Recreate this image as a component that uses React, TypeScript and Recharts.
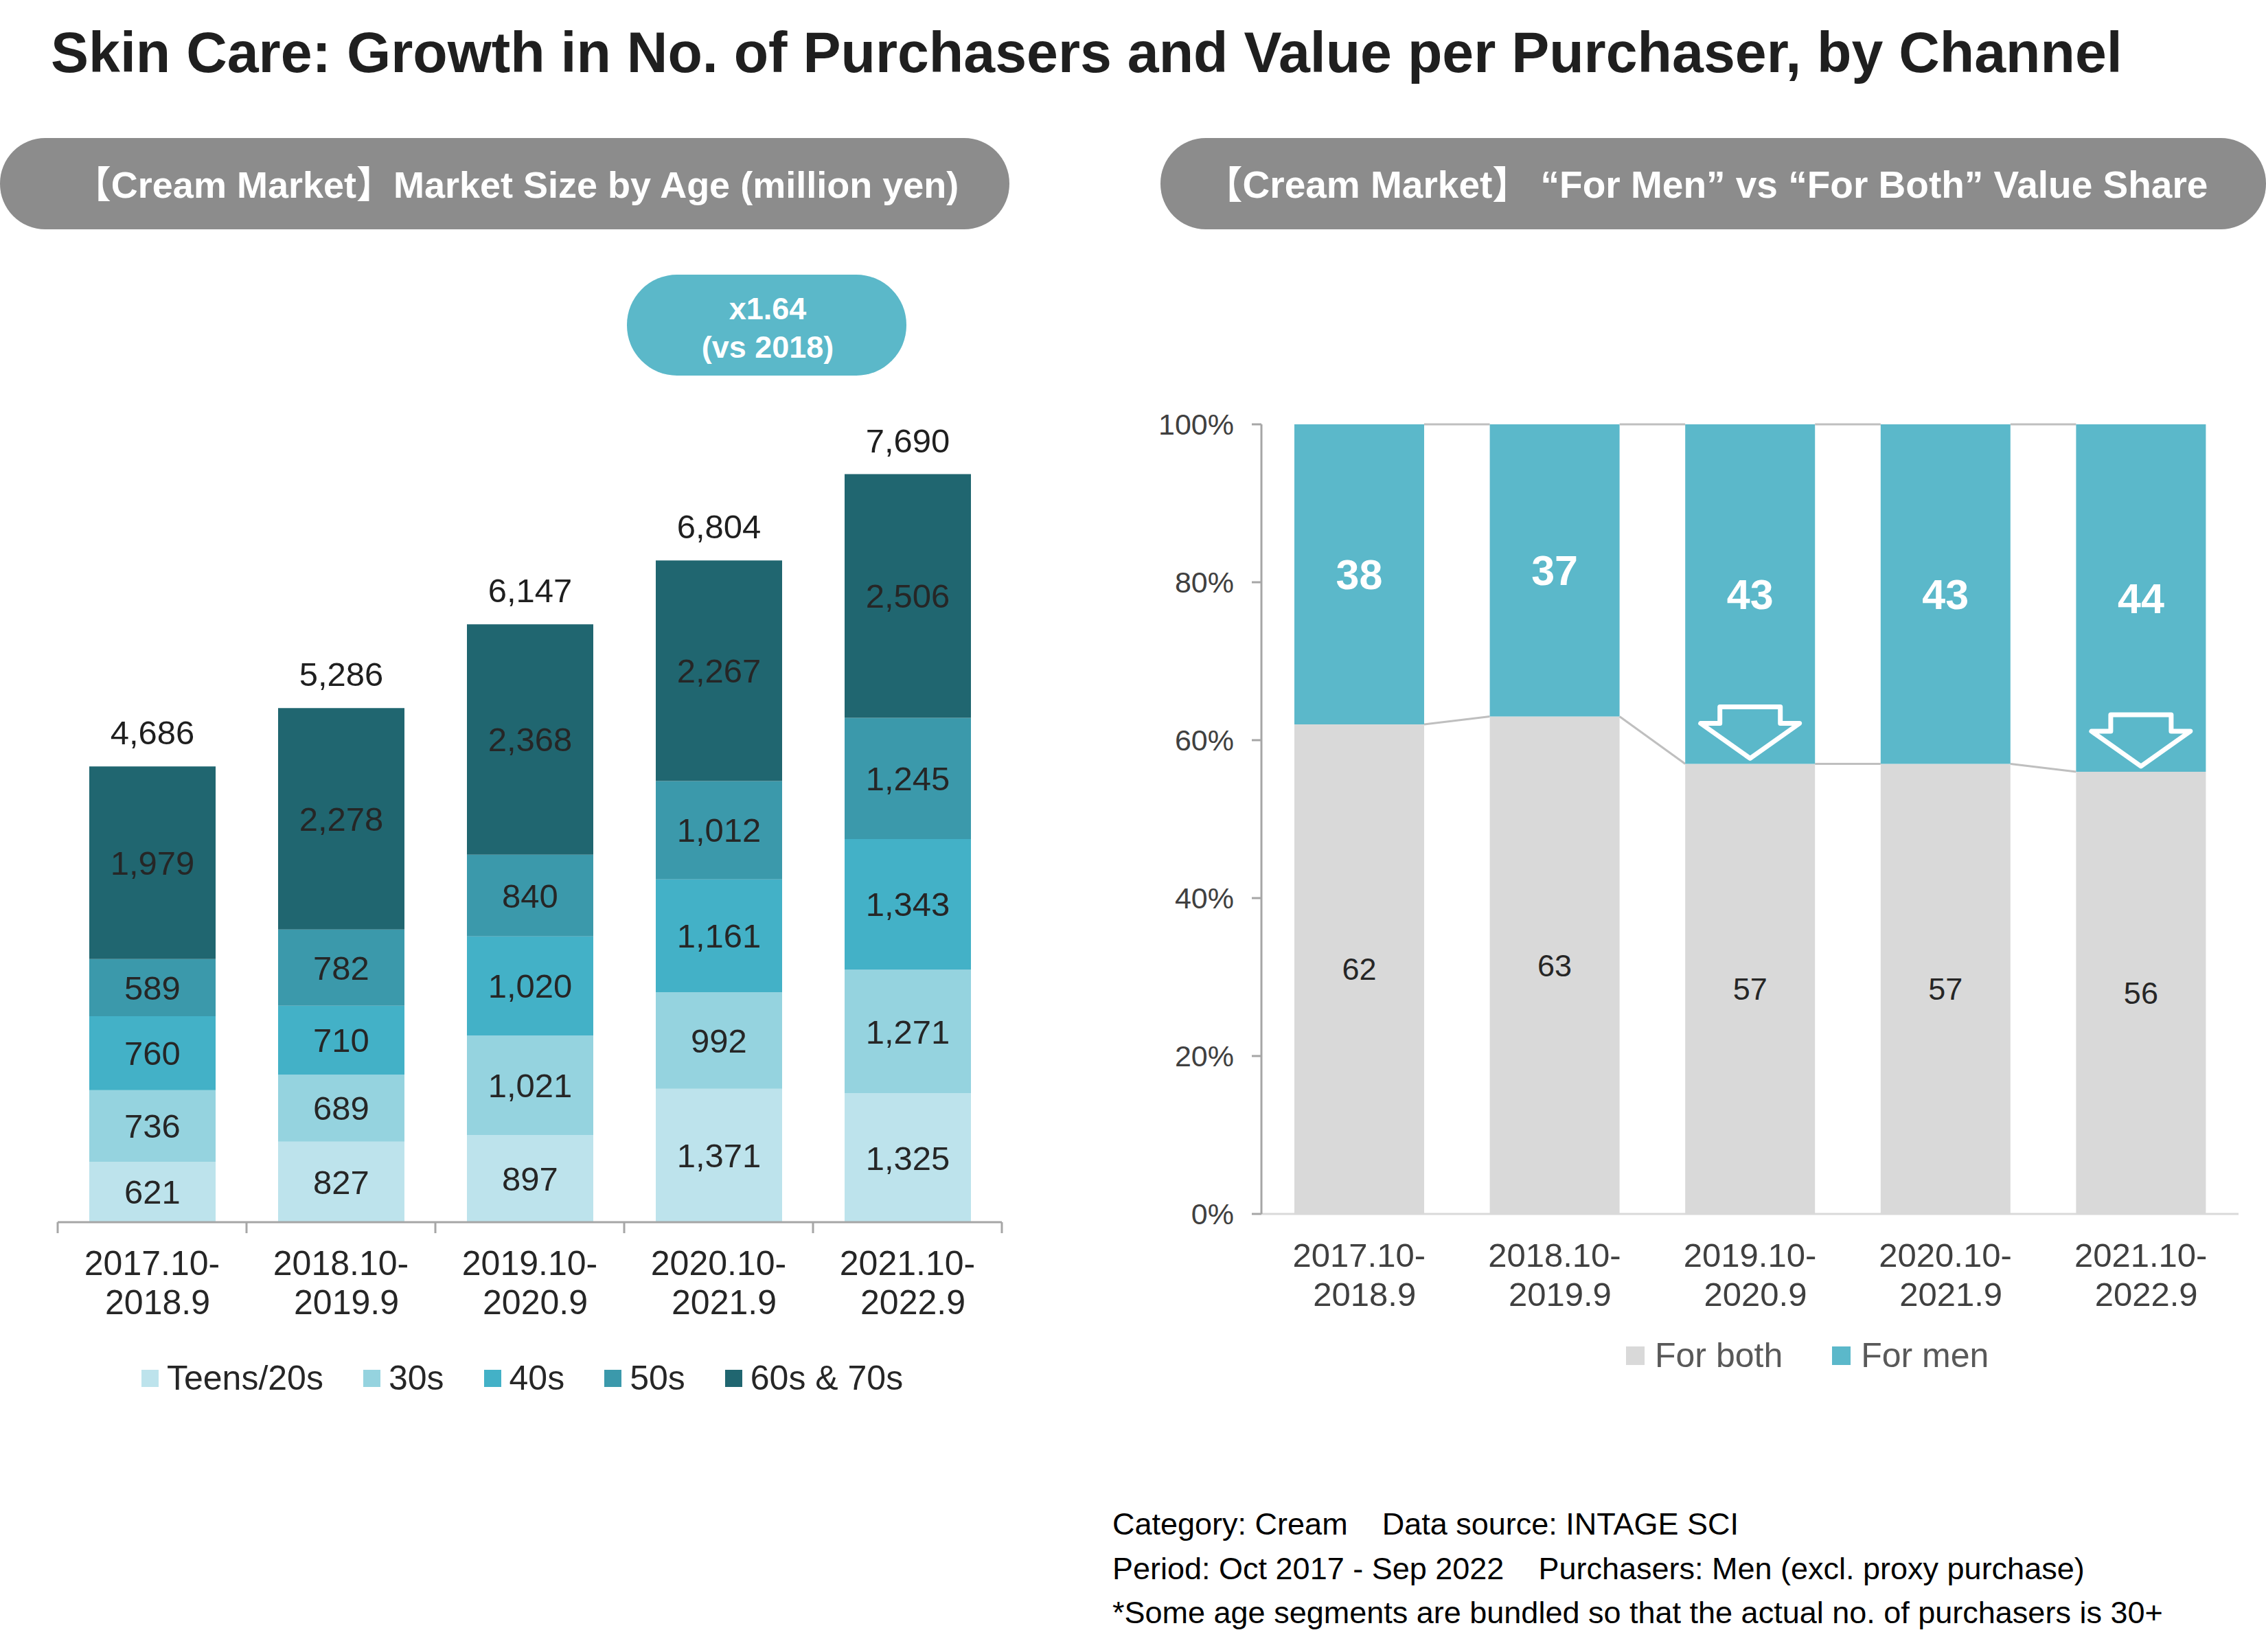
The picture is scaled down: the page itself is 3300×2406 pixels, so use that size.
import React from 'react';
import { BarChart, Bar, XAxis, YAxis, LabelList, Legend } from 'recharts';

const FONT = '"Liberation Sans", Arial, "Noto Sans CJK JP", sans-serif';

// periods shared by both charts
const periods = ['2017.10-2018.9', '2018.10-2019.9', '2019.10-2020.9', '2020.10-2021.9', '2021.10-2022.9'];

// cream market size by age (million yen)
const teens = [621, 827, 897, 1371, 1325];
const thirties = [736, 689, 1021, 992, 1271];
const forties = [760, 710, 1020, 1161, 1343];
const fifties = [589, 782, 840, 1012, 1245];
const sixtiesSeventies = [1979, 2278, 2368, 2267, 2506];
const marketTotals = [4686, 5286, 6147, 6804, 7690];

// value share (%)
const forBoth = [62, 63, 57, 57, 56];
const forMen = [38, 37, 43, 43, 44];
const shareDrop = [false, false, true, false, true];
const shareTicks = [0, 20, 40, 60, 80, 100];

const ageSeries = [
  { key: 'teens', name: 'Teens/20s', color: '#bde3ec' },
  { key: 'thirties', name: '30s', color: '#95d3df' },
  { key: 'forties', name: '40s', color: '#43b1c7' },
  { key: 'fifties', name: '50s', color: '#3b99ab' },
  { key: 'sixties', name: '60s & 70s', color: '#206670' },
];
const shareNames = ['For both', 'For men'];

const marketData = periods.map((period, i) => ({
  period,
  teens: teens[i],
  thirties: thirties[i],
  forties: forties[i],
  fifties: fifties[i],
  sixties: sixtiesSeventies[i],
  total: marketTotals[i],
}));

const shareData = periods.map((period, i) => ({
  period,
  both: forBoth[i],
  men: forMen[i],
  drop: shareDrop[i],
}));

// layout
const L = { left: 0, top: 400, width: 1500, height: 1700 };
const L_MARGIN = { top: 105, right: 41, bottom: 170, left: 84 };
const L_BAND = (L.width - L_MARGIN.left - L_MARGIN.right) / periods.length;

const R = { left: 1650, top: 500, width: 1650, height: 1600 };
const R_MARGIN = { top: 118, right: 40, bottom: 182, left: 0 };
const R_YAXIS_W = 187;
const R_BAND = (R.width - R_YAXIS_W - R_MARGIN.right) / periods.length;

const splitPeriod = (s: string) => {
  const i = s.indexOf('-');
  return [s.slice(0, i + 1), s.slice(i + 1)];
};

const fmt = (v: any) => Number(v).toLocaleString('en-US');

const LeftTick = (props: any) => {
  const { x, y, payload } = props;
  const [a, b] = splitPeriod(payload.value);
  const isLast = payload.value === periods[periods.length - 1];
  return (
    <g>
      <line x1={x - L_BAND / 2} x2={x - L_BAND / 2} y1={y} y2={y + 16} stroke="#a6a6a6" strokeWidth={3} />
      {isLast && <line x1={x + L_BAND / 2} x2={x + L_BAND / 2} y1={y} y2={y + 16} stroke="#a6a6a6" strokeWidth={3} />}
      <text x={x} y={y + 77} textAnchor="middle" fill="#262626" fontSize={50} fontFamily={FONT}>{a}</text>
      <text x={x + 8} y={y + 134} textAnchor="middle" fill="#262626" fontSize={50} fontFamily={FONT}>{b}</text>
    </g>
  );
};

const RightTick = (props: any) => {
  const { x, y, payload } = props;
  const [a, b] = splitPeriod(payload.value);
  return (
    <g>
      <text x={x} y={y + 77} textAnchor="middle" fill="#404040" fontSize={49} fontFamily={FONT}>{a}</text>
      <text x={x + 8} y={y + 134} textAnchor="middle" fill="#404040" fontSize={49} fontFamily={FONT}>{b}</text>
    </g>
  );
};

const SERIES_LINE = '#bfbfbf';

const BothShape = (props: any) => {
  const { x, y, width, height, fill, index } = props;
  const next = shareData[index + 1];
  const base = y + height;
  const perUnit = height / shareData[index].both;
  return (
    <g>
      <rect x={x} y={y} width={width} height={height} fill={fill} />
      {next && (
        <line x1={x + width} y1={y} x2={x + R_BAND} y2={base - next.both * perUnit} stroke={SERIES_LINE} strokeWidth={3} />
      )}
    </g>
  );
};

const MenShape = (props: any) => {
  const { x, y, width, height, fill, index } = props;
  const next = shareData[index + 1];
  const cx = x + width / 2;
  const tip = y + height - 8;
  const top = tip - 75;
  const headY = tip - 51;
  const arrow = [
    [cx - 44, top], [cx + 44, top], [cx + 44, headY], [cx + 72, headY],
    [cx, tip], [cx - 72, headY], [cx - 44, headY],
  ].map((p) => p.join(',')).join(' ');
  return (
    <g>
      <rect x={x} y={y} width={width} height={height} fill={fill} />
      {next && <line x1={x + width} y1={y} x2={x + R_BAND} y2={y} stroke={SERIES_LINE} strokeWidth={3} />}
      {shareDrop[index] && (
        <polygon points={arrow} fill="none" stroke="#ffffff" strokeWidth={7} strokeLinejoin="round" />
      )}
    </g>
  );
};

const legendContent = (order: string[], swatch: number, gap: number, spacing: number, color: string) => (props: any) => {
  const items = [...(props.payload || [])].sort((a: any, b: any) => order.indexOf(a.value) - order.indexOf(b.value));
  return (
    <div style={{ display: 'flex', alignItems: 'center', fontFamily: FONT, fontSize: 50, color, lineHeight: '60px', whiteSpace: 'nowrap' }}>
      {items.map((it: any) => (
        <div key={it.value} style={{ display: 'flex', alignItems: 'center', marginRight: spacing }}>
          <span style={{ width: swatch, height: swatch, background: it.color, display: 'inline-block', marginRight: gap }} />
          <span>{it.value}</span>
        </div>
      ))}
    </div>
  );
};

export default function App() {
  return (
    <div style={{ position: 'absolute', left: 0, top: 0, width: 3300, height: 2406, background: '#ffffff', fontFamily: FONT, overflow: 'hidden' }}>
      <svg width={3300} height={2406} style={{ position: 'absolute', left: 0, top: 0 }}>
        <text x={74} y={105} fontSize={82.5} fontWeight="bold" fill="#1f1f1f" fontFamily={FONT}>
          Skin Care: Growth in No. of Purchasers and Value per Purchaser, by Channel
        </text>

        <rect x={0} y={201} width={1470} height={133} rx={66} fill="#8c8c8c" />
        <text x={752} y={288} textAnchor="middle" fontSize={54} fontWeight="bold" fill="#ffffff" fontFamily={FONT}>
          【Cream Market】Market Size by Age (million yen)
        </text>

        <rect x={1690} y={201} width={1610} height={133} rx={66} fill="#8c8c8c" />
        <text x={2485} y={288} textAnchor="middle" fontSize={55} fontWeight="bold" fill="#ffffff" fontFamily={FONT} xmlSpace="preserve">
          {'【Cream Market】 “For Men” vs “For Both” Value Share'}
        </text>

        <rect x={913} y={400} width={407} height={147} rx={73} fill="#5bb8c9" />
        <text x={1118} y={465} textAnchor="middle" fontSize={45} fontWeight="bold" fill="#ffffff" fontFamily={FONT}>x1.64</text>
        <text x={1118} y={521} textAnchor="middle" fontSize={45} fontWeight="bold" fill="#ffffff" fontFamily={FONT}>(vs 2018)</text>

        <g fontSize={45} fill="#000000" fontFamily={FONT}>
          <text x={1620} y={2235} xmlSpace="preserve">{'Category: Cream    Data source: INTAGE SCI'}</text>
          <text x={1620} y={2300} xmlSpace="preserve">{'Period: Oct 2017 - Sep 2022    Purchasers: Men (excl. proxy purchase)'}</text>
          <text x={1620} y={2364} xmlSpace="preserve">{'*Some age segments are bundled so that the actual no. of purchasers is 30+'}</text>
        </g>
      </svg>

      <div style={{ position: 'absolute', left: L.left, top: L.top, width: L.width, height: L.height }}>
        <BarChart width={L.width} height={L.height} data={marketData} margin={L_MARGIN}>
          <XAxis
            dataKey="period"
            height={150}
            axisLine={{ stroke: '#a6a6a6', strokeWidth: 3 }}
            tickLine={false}
            tickSize={0}
            tickMargin={0}
            interval={0}
            tick={<LeftTick />}
          />
          <YAxis hide domain={[0, 9000]} />
          <Legend
            verticalAlign="middle"
            align="center"
            layout="horizontal"
            wrapperStyle={{ top: 2007 - L.top - 30, left: 206, width: 1280 }}
            content={legendContent(ageSeries.map((s) => s.name), 25, 12, 58, '#262626')}
          />
          {ageSeries.map((s, i) => (
            <Bar key={s.key} dataKey={s.key} name={s.name} stackId="m" fill={s.color} barSize={184} isAnimationActive={false}>
              <LabelList dataKey={s.key} position="center" fill="#262626" fontSize={49} fontFamily={FONT} formatter={fmt} />
              {i === ageSeries.length - 1 && (
                <LabelList dataKey="total" position="top" offset={32} fill="#1f1f1f" fontSize={49} fontFamily={FONT} formatter={fmt} />
              )}
            </Bar>
          ))}
        </BarChart>
      </div>

      <div style={{ position: 'absolute', left: R.left, top: R.top, width: R.width, height: R.height }}>
        <BarChart width={R.width} height={R.height} data={shareData} margin={R_MARGIN}>
          <XAxis
            dataKey="period"
            height={150}
            axisLine={{ stroke: '#d9d9d9', strokeWidth: 3 }}
            tickLine={false}
            tickSize={0}
            tickMargin={0}
            interval={0}
            tick={<RightTick />}
          />
          <YAxis
            width={R_YAXIS_W}
            domain={[0, 100]}
            ticks={shareTicks}
            interval={0}
            tickFormatter={(v: number) => `${v}%`}
            axisLine={{ stroke: '#a6a6a6', strokeWidth: 3 }}
            tickLine={{ stroke: '#a6a6a6', strokeWidth: 3 }}
            tickSize={14}
            tickMargin={26}
            tick={{ fill: '#404040', fontSize: 43, fontFamily: FONT }}
          />
          <Legend
            verticalAlign="middle"
            align="center"
            layout="horizontal"
            wrapperStyle={{ top: 1974 - R.top - 30, left: 2368 - R.left, width: 700 }}
            content={legendContent(shareNames, 27, 15, 72, '#595959')}
          />
          <Bar dataKey="both" name={shareNames[0]} stackId="s" fill="#d9d9d9" barSize={189} shape={<BothShape />} isAnimationActive={false}>
            <LabelList dataKey="both" position="center" fill="#262626" fontSize={45} fontFamily={FONT} />
          </Bar>
          <Bar dataKey="men" name={shareNames[1]} stackId="s" fill="#5bb8ca" barSize={189} shape={<MenShape />} isAnimationActive={false}>
            <LabelList dataKey="men" position="center" fill="#ffffff" fontSize={61} fontWeight="bold" fontFamily={FONT} />
          </Bar>
        </BarChart>
      </div>
    </div>
  );
}
